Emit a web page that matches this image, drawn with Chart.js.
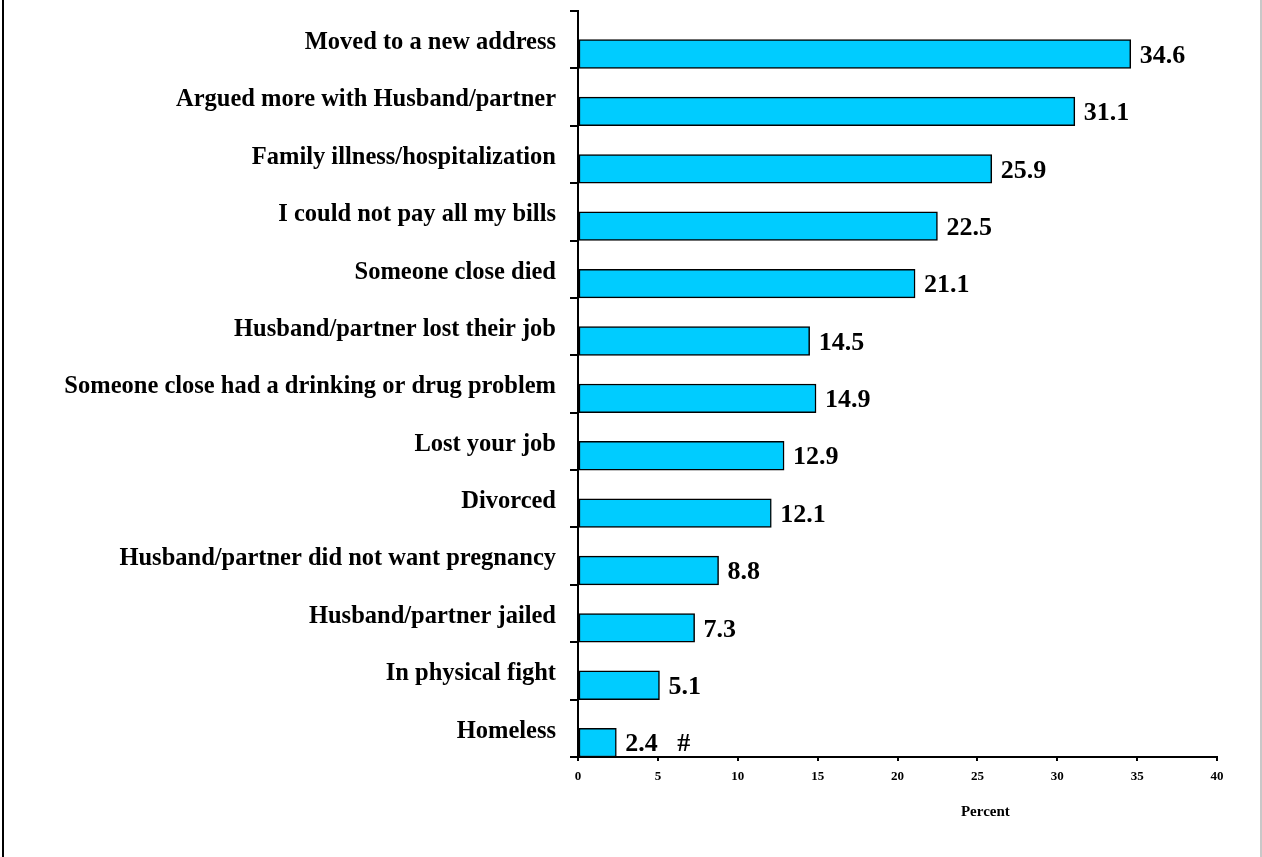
<!DOCTYPE html>
<html>
<head>
<meta charset="utf-8">
<script src="https://cdn.jsdelivr.net/npm/chart.js@4/dist/chart.umd.min.js"></script>
<style>
  html, body { margin: 0; padding: 0; background: #ffffff; }
  #wrap { position: relative; width: 1262px; height: 857px; }
</style>
</head>
<body>
<div id="wrap"><canvas id="c" width="1262" height="857"></canvas></div>
<script>
const categories = [
  "Moved to a new address",
  "Argued more with Husband/partner",
  "Family illness/hospitalization",
  "I could not pay all my bills",
  "Someone close died",
  "Husband/partner lost their job",
  "Someone close had a drinking or drug problem",
  "Lost your job",
  "Divorced",
  "Husband/partner did not want pregnancy",
  "Husband/partner jailed",
  "In physical fight",
  "Homeless"
];
const percentValues = [34.6, 31.1, 25.9, 22.5, 21.1, 14.5, 14.9, 12.9, 12.1, 8.8, 7.3, 5.1, 2.4];
const labelSuffixes = ["", "", "", "", "", "", "", "", "", "", "", "", "   #"];
const xTicks = [0, 5, 10, 15, 20, 25, 30, 35, 40];
const axisTitle = "Percent";

const SERIF = "'Liberation Serif', 'Times New Roman', serif";

const framePlugin = {
  id: 'frame',
  beforeDraw(chart) {
    const ctx = chart.ctx;
    ctx.save();
    ctx.fillStyle = '#ffffff';
    ctx.fillRect(0, 0, chart.width, chart.height);
    ctx.fillStyle = '#000000';
    ctx.fillRect(2, 0, 2, chart.height);
    ctx.fillStyle = '#c8c8c8';
    ctx.fillRect(1260, 0, 2, chart.height);
    ctx.restore();
  }
};

const valueLabelPlugin = {
  id: 'valueLabels',
  afterDatasetsDraw(chart) {
    const ctx = chart.ctx;
    const meta = chart.getDatasetMeta(1);
    ctx.save();
    ctx.font = "bold 26px " + SERIF;
    ctx.fillStyle = '#000000';
    ctx.textAlign = 'left';
    ctx.textBaseline = 'middle';
    meta.data.forEach((bar, i) => {
      const txt = percentValues[i].toFixed(1) + labelSuffixes[i];
      ctx.fillText(txt, bar.x + 9, bar.y + 2);
    });
    // axis title
    const xs = chart.scales.x;
    ctx.font = "bold 15px " + SERIF;
    ctx.textAlign = 'center';
    ctx.fillText(axisTitle, xs.getPixelForValue(25.5), chart.chartArea.bottom + 55);
    ctx.restore();
  }
};

new Chart(document.getElementById('c'), {
  type: 'bar',
  data: {
    labels: categories,
    datasets: [
      { data: categories.map(() => null), backgroundColor: 'rgba(0,0,0,0)' },
      {
        data: percentValues,
        backgroundColor: '#00CCFF',
        borderColor: '#000000',
        borderWidth: 1.5,
        borderSkipped: false
      }
    ]
  },
  options: {
    indexAxis: 'y',
    responsive: false,
    devicePixelRatio: 1,
    animation: false,
    events: [],
    layout: { padding: { left: 0, top: 11, right: 45, bottom: 0 } },
    datasets: { bar: { barPercentage: 1, categoryPercentage: 1 } },
    plugins: { legend: { display: false }, tooltip: { enabled: false }, title: { display: false } },
    scales: {
      y: {
        type: 'category',
        offset: true,
        grid: { offset: true, drawOnChartArea: false, drawTicks: true, tickLength: 8, color: '#000000', lineWidth: 2 },
        border: { display: true, color: '#000000', width: 2 },
        ticks: { color: '#000000', padding: 14, labelOffset: 3, font: { family: SERIF, size: 24.5, weight: 'bold' }, autoSkip: false },
        afterFit(scale) { scale.width = 578; scale.paddingTop = 0; scale.paddingBottom = 0; }
      },
      x: {
        type: 'linear',
        min: 0, max: 40,
        afterBuildTicks(scale) { scale.ticks = xTicks.map(v => ({ value: v })); },
        grid: { drawOnChartArea: false, drawTicks: true, tickLength: 4, color: '#000000', lineWidth: 2 },
        border: { display: true, color: '#000000', width: 2 },
        ticks: { color: '#000000', padding: 8, font: { family: SERIF, size: 13, weight: 'bold' }, maxRotation: 0 },
        afterFit(scale) { scale.height = 100; scale.paddingLeft = 0; scale.paddingRight = 0; }
      }
    }
  },
  plugins: [framePlugin, valueLabelPlugin]
});
</script>
</body>
</html>
